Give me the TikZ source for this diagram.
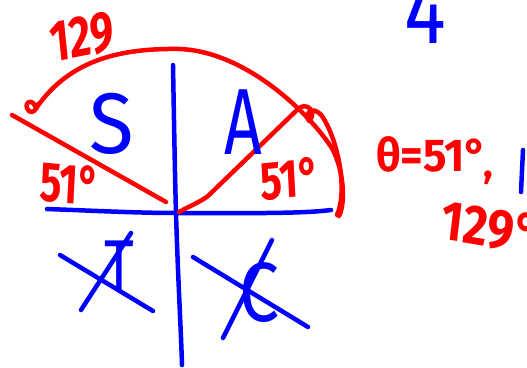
\documentclass[tikz,border=0pt]{standalone}
\usepackage{fontspec}
\setmainfont{Fira Sans}
\definecolor{inkred}{RGB}{255,0,0}
\definecolor{inkblue}{RGB}{0,0,255}
\tikzset{
  pen/.style={line width=4.5pt, line cap=round, line join=round},
  redpen/.style={pen, draw=inkred},
  bluepen/.style={pen, draw=inkblue},
  redtext/.style={text=inkred, inner sep=0pt},
  bluetext/.style={text=inkblue, inner sep=0pt},
}
\begin{document}
\begin{tikzpicture}[x=1pt,y=-1pt]
\clip (0,0) rectangle (527,367);
\fill[white] (0,0) rectangle (527,367);
% axes
\draw[bluepen] (173,65) .. controls (174,120) and (175,180) .. (176,213) .. controls (178,280) and (181,330) .. (182,365);
\draw[bluepen] (47,209) .. controls (100,211) and (140,213) .. (176,213) .. controls (240,213) and (300,214) .. (331,210);
% red angle lines
\draw[redpen] (12,115) -- (166,202);
\draw[redpen] (179,212) .. controls (190,206) and (200,202) .. (208,196) -- (297,110);
% red arc with loop ends
\draw[redpen] (37,107) .. controls (70,60) and (120,48) .. (180,49) .. controls (250,52) and (315,120) .. (333,150) .. controls (345,175) and (345,205) .. (339,216);
\draw[redpen] (36,108) .. controls (32,96) and (22,104) .. (29,111) .. controls (32,114) and (37,110) .. (38,104);
\draw[redpen] (297,110) .. controls (306,100) and (318,112) .. (309,121) .. controls (304,114) and (312,104) .. (322,116) .. controls (338,140) and (348,190) .. (337,215);
% labels
\node[redtext, font=\bfseries\fontsize{58}{58}\selectfont, xscale=0.72, rotate=8] (n129) at (82,37) {129};
\node[bluetext, font=\fontsize{86}{86}\selectfont, xscale=0.95] (qS) at (112,124) {S};
\node[bluetext, font=\fontsize{94}{94}\selectfont, xscale=0.7] (qA) at (243,122) {A};
\node[redtext, font=\bfseries\fontsize{56}{56}\selectfont, xscale=0.72, rotate=-4] (angL) at (70,184) {51°};
\node[redtext, font=\bfseries\fontsize{54}{54}\selectfont, xscale=0.75, rotate=4] (angR) at (290,179) {51°};
\node[redtext, font=\bfseries\fontsize{46}{46}\selectfont, xscale=0.95] (theta) at (432,154) {θ=51°};
\node[redtext, font=\bfseries\fontsize{40}{40}\selectfont] (comma) at (488,178) {,};
\node[redtext, font=\bfseries\fontsize{56}{56}\selectfont, xscale=0.85, rotate=-8, anchor=west] (n1290) at (442,220) {129°};
\node[bluetext, font=\fontsize{92}{92}\selectfont, xscale=0.85] (four) at (425,12) {4};
\draw[bluepen] (523,150) -- (521,192);
% third quadrant: crossed-out T
\node[bluetext, font=\fontsize{72}{72}\selectfont, xscale=0.8] (qT) at (119,266) {T};
\draw[bluepen] (60,255) -- (153,311);
\draw[bluepen] (81,310) -- (131,233);
% fourth quadrant: crossed-out C
\node[bluetext, font=\fontsize{84}{84}\selectfont, xscale=0.85] (qC) at (259,293) {C};
\draw[bluepen] (193,257) -- (308,327);
\draw[bluepen] (272,240) -- (223,338);
\end{tikzpicture}
\end{document}
